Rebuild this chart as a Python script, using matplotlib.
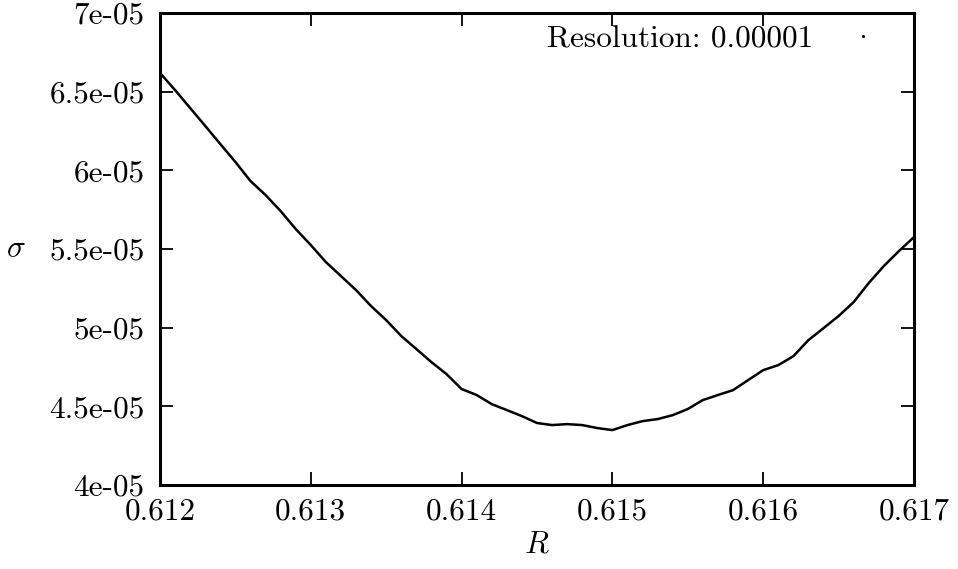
import matplotlib
matplotlib.use("Agg")
import matplotlib.pyplot as plt
from matplotlib.lines import Line2D

plt.rcParams["mathtext.fontset"] = "cm"
plt.rcParams["font.family"] = "cmr10"
plt.rcParams["axes.unicode_minus"] = False

# R values (step 0.0001) and sigma (units of 1e-05)
r_vals = [0.6120 + 0.0001 * i for i in range(51)]
sigma_e5 = [
    6.619, 6.510, 6.396, 6.282, 6.167, 6.053, 5.932, 5.843, 5.741, 5.627,
    5.525, 5.417, 5.328, 5.239, 5.137, 5.048, 4.947, 4.864, 4.781, 4.705,
    4.610, 4.572, 4.514, 4.476, 4.438, 4.394, 4.381, 4.387, 4.381, 4.362,
    4.349, 4.381, 4.406, 4.419, 4.444, 4.483, 4.540, 4.572, 4.603, 4.667,
    4.730, 4.762, 4.819, 4.921, 4.997, 5.074, 5.163, 5.284, 5.392, 5.487,
    5.576,
]
sigma = [s * 1e-5 for s in sigma_e5]

x_ticks = [0.612, 0.613, 0.614, 0.615, 0.616, 0.617]
x_labels = ["0.612", "0.613", "0.614", "0.615", "0.616", "0.617"]
y_ticks = [4e-5, 4.5e-5, 5e-5, 5.5e-5, 6e-5, 6.5e-5, 7e-5]
y_labels = ["4e-05", "4.5e-05", "5e-05", "5.5e-05", "6e-05", "6.5e-05", "7e-05"]

fig = plt.figure(figsize=(9.58, 5.69), dpi=100)
ax = fig.add_axes([0.1670, 0.1476, 0.7871, 0.8296])

ax.plot(r_vals, sigma, color="black", linewidth=1.8)

ax.set_xlim(0.612, 0.617)
ax.set_ylim(4e-5, 7e-5)
ax.set_xticks(x_ticks)
ax.set_xticklabels(x_labels)
ax.set_yticks(y_ticks)
ax.set_yticklabels(y_labels)

ax.tick_params(direction="in", length=9.5, width=1.3, labelsize=22.5,
               top=True, right=True)
ax.tick_params(axis="y", pad=11)
ax.tick_params(axis="x", pad=9)
for sp in ax.spines.values():
    sp.set_linewidth(2.2)

ax.set_xlabel(r"$R$", fontsize=22.5, labelpad=4)
fig.text(0.017, 1 - 249 / 569, r"$\sigma$", fontsize=22.5, ha="center", va="center")

handle = Line2D([], [], color="black", marker=".", markersize=2.5, linestyle="none")
ax.legend([handle], ["Resolution: 0.00001"], loc="upper right", frameon=False,
          markerfirst=False, fontsize=22.5, handlelength=1.6,
          bbox_to_anchor=(0.995, 1.02), borderaxespad=0.3)

fig.savefig("out.png", dpi=100)
